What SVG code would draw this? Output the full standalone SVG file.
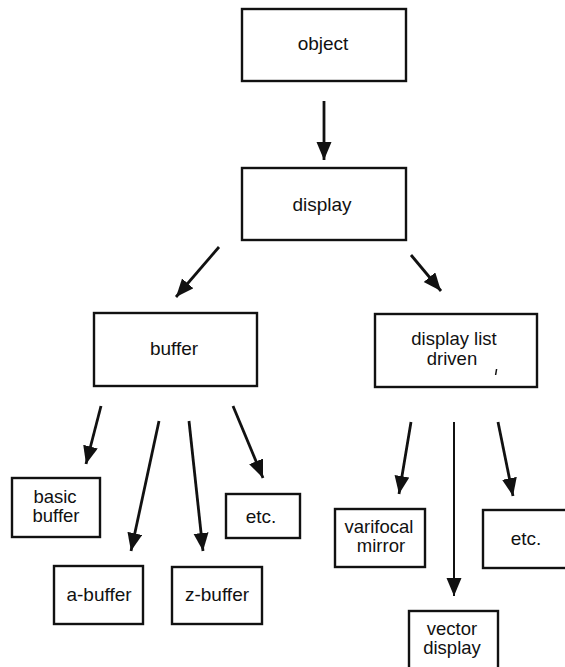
<svg xmlns="http://www.w3.org/2000/svg" width="565" height="667" viewBox="0 0 565 667">
<defs>
<marker id="ah" markerUnits="userSpaceOnUse" markerWidth="19" markerHeight="16" refX="18" refY="7.5" orient="auto">
<path d="M0,0 L18,7.5 L0,15 z" fill="#111"/>
</marker>
<style>
.box{fill:#fff;stroke:#111;stroke-width:2.4}
.lbl{font-family:"Liberation Sans",Arial,sans-serif;font-size:19px;fill:#111;text-anchor:middle}
.lbl2{font-family:"Liberation Sans",Arial,sans-serif;font-size:18.5px;fill:#111;text-anchor:middle}
.edge{stroke:#111;stroke-width:2.8;fill:none;marker-end:url(#ah)}
</style>
</defs>
<rect width="565" height="667" fill="#fff"/>
<g id="connectors">
<line class="edge" x1="324" y1="101" x2="324" y2="160"/>
<line class="edge" x1="219" y1="247" x2="176" y2="297"/>
<line class="edge" x1="411" y1="255" x2="441" y2="291"/>
<line class="edge" x1="101" y1="406" x2="86" y2="464"/>
<line class="edge" x1="159" y1="421" x2="131" y2="551"/>
<line class="edge" x1="189" y1="421" x2="203" y2="551"/>
<line class="edge" x1="233" y1="406" x2="263" y2="478"/>
<line class="edge" x1="411" y1="422" x2="399" y2="494"/>
<line class="edge" style="stroke-width:2" x1="454" y1="422" x2="454" y2="596"/>
<line class="edge" x1="498" y1="422" x2="513" y2="496"/>
</g>
<g id="object">
<rect class="box" x="242" y="9" width="164" height="72"/>
<text class="lbl" x="323" y="50">object</text>
</g>
<g id="display">
<rect class="box" x="242" y="168" width="164" height="72"/>
<text class="lbl" x="322" y="211">display</text>
</g>
<g id="buffer">
<rect class="box" x="94" y="313" width="163" height="73"/>
<text class="lbl" x="174" y="355">buffer</text>
</g>
<g id="display-list-driven">
<rect class="box" x="375" y="314" width="162" height="73"/>
<text class="lbl2" x="454" y="345">display list</text>
<text class="lbl2" x="452" y="365">driven</text>
<line x1="496.6" y1="369" x2="495.6" y2="375" stroke="#111" stroke-width="1.5"/>
</g>
<g id="basic-buffer">
<rect class="box" x="12" y="478" width="88" height="59"/>
<text class="lbl2" x="55" y="503">basic</text>
<text class="lbl2" x="56" y="522">buffer</text>
</g>
<g id="a-buffer">
<rect class="box" x="54" y="566" width="89" height="58"/>
<text class="lbl" x="99" y="601">a-buffer</text>
</g>
<g id="z-buffer">
<rect class="box" x="172" y="567" width="90" height="57"/>
<text class="lbl" x="217" y="601">z-buffer</text>
</g>
<g id="etc-left">
<rect class="box" x="226" y="494" width="74" height="44"/>
<text class="lbl" x="261" y="523">etc.</text>
</g>
<g id="varifocal-mirror">
<rect class="box" x="335" y="509" width="90" height="58"/>
<text class="lbl2" x="379" y="533">varifocal</text>
<text class="lbl2" x="381" y="552">mirror</text>
</g>
<g id="etc-right">
<rect class="box" x="483" y="510" width="85" height="58"/>
<text class="lbl" x="526" y="545">etc.</text>
</g>
<g id="vector-display">
<rect class="box" x="409" y="611" width="89" height="60"/>
<text class="lbl2" x="452" y="635">vector</text>
<text class="lbl2" x="452" y="654">display</text>
</g>
</svg>
